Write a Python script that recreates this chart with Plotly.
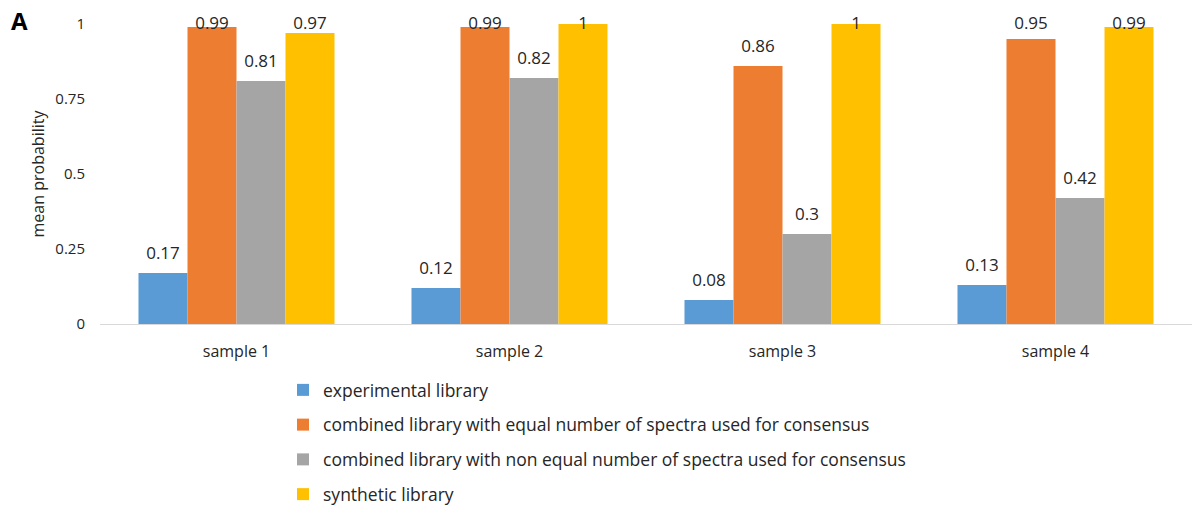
import plotly.graph_objects as go

categories = ["sample 1", "sample 2", "sample 3", "sample 4"]
series_names = [
    "experimental library",
    "combined library with equal number of spectra used for consensus",
    "combined library with non equal number of spectra used for consensus",
    "synthetic library",
]
experimental = [0.17, 0.12, 0.08, 0.13]
combined_equal = [0.99, 0.99, 0.86, 0.95]
combined_nonequal = [0.81, 0.82, 0.3, 0.42]
synthetic = [0.97, 1, 1, 0.99]
colors = ["#5b9bd5", "#ed7d31", "#a5a5a5", "#ffc000"]
y_ticks = [0, 0.25, 0.5, 0.75, 1]
y_tick_labels = ["0", "0.25", "0.5", "0.75", "1"]

FONT = "Open Sans, Liberation Sans, sans-serif"
GAP = 0.282
LABEL_OFFSET = 0.06   # label centre above bar top (Excel style)
LABEL_CAP = 0.999     # Excel keeps labels inside chart area

all_series = [experimental, combined_equal, combined_nonequal, synthetic]

fig = go.Figure()
for i, (name, vals) in enumerate(zip(series_names, all_series)):
    fig.add_trace(go.Bar(
        x=categories, y=vals, name=name,
        marker=dict(color=colors[i], line=dict(width=0)),
        legendgroup=f"g{i}", offsetgroup=str(i),
    ))
for i, (name, vals) in enumerate(zip(series_names, all_series)):
    fig.add_trace(go.Scatter(
        x=categories, y=[min(v + LABEL_OFFSET, LABEL_CAP) for v in vals],
        text=[f"{v:g}" for v in vals], mode="text", textposition="middle center",
        textfont=dict(size=17, color="#262626", family=FONT),
        showlegend=False, hoverinfo="skip", cliponaxis=False,
        offsetgroup=str(i),
    ))

fig.update_layout(
    width=1192, height=512,
    margin=dict(l=100, r=0, t=24, b=181),
    paper_bgcolor="white", plot_bgcolor="white",
    barmode="group", bargap=GAP, bargroupgap=0,
    scattermode="group", scattergap=GAP,
    font=dict(family=FONT, color="#262626"),
    legend=dict(
        orientation="v", x=0.1676, xanchor="left", y=-0.16, yanchor="top",
        font=dict(size=17.5, color="#262626", family=FONT),
        tracegroupgap=9, itemwidth=30,
        bgcolor="rgba(0,0,0,0)",
    ),
    xaxis=dict(
        showline=True, linecolor="#d9d9d9", linewidth=1,
        ticks="", showgrid=False,
        tickfont=dict(size=16, color="#262626", family=FONT),
        ticklabelstandoff=13,
    ),
    yaxis=dict(
        range=[0, 1], tickvals=y_ticks, ticktext=y_tick_labels,
        showgrid=False, zeroline=False, showline=False, ticks="",
        tickfont=dict(size=15, color="#262626", family=FONT),
        ticklabelstandoff=14,
        title=dict(text="mean probability", font=dict(size=16, color="#262626", family=FONT), standoff=6),
    ),
    annotations=[dict(
        text="<b>A</b>", xref="paper", yref="paper", x=-0.074, y=1.01,
        xanchor="center", yanchor="middle", showarrow=False,
        font=dict(size=24, color="black", family=FONT),
    )],
)

fig.write_html("out.html")
